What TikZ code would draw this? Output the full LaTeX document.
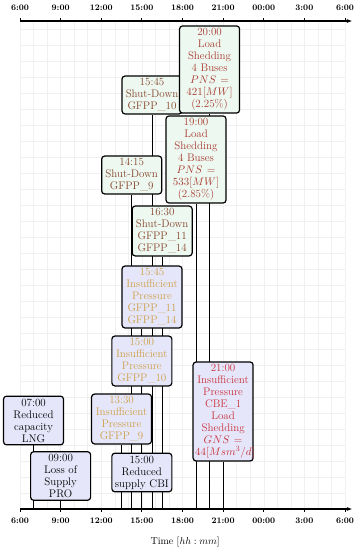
\documentclass[tikz,border=0pt]{standalone}
\usepackage{amsmath}
\usepackage{xcolor}
\usepackage{tikz}
\usetikzlibrary{arrows.meta, backgrounds}

\definecolor{shedtext}{RGB}{170,60,50}
\definecolor{shuttext}{RGB}{135,70,45}
\definecolor{presstext}{RGB}{205,160,70}
\definecolor{cbetext}{RGB}{200,50,60}
\definecolor{greenfill}{RGB}{236,248,240}
\definecolor{lavfill}{RGB}{230,230,250}

\begin{document}
\begin{tikzpicture}[x=13.54pt, y=1pt,
  event/.style={draw=black, line width=1.2pt, rounded corners=3pt, text width=56pt, align=center,
    inner xsep=2pt, inner ysep=2.5pt, font=\fontsize{11}{12}\selectfont},
  supplybox/.style={event, fill=lavfill, text=black},
  pressbox/.style={event, fill=lavfill, text=presstext},
  shutbox/.style={event, fill=greenfill, text=shuttext},
  shedbox/.style={event, fill=greenfill, text=shedtext},
  cbebox/.style={event, fill=lavfill, text=cbetext},
  timeline/.style={line width=1.2pt, -{Stealth[length=5pt]}},
  tickmark/.style={line width=0.8pt},
  ticklabel/.style={font=\fontsize{8.5}{10}\selectfont\bfseries},
  eventline/.style={line width=1pt},
  gridline/.style={gray!12, line width=0.4pt}]
  \useasboundingbox (-1.477,-41) rectangle (24.963,509);

  % Time axes (bottom and top)
  \draw[timeline] (0,0) -- (24.5,0);
  \draw[timeline] (0,488) -- (24.5,488);
  \foreach \h/\lab in {0/6:00,3/9:00,6/12:00,9/15:00,12/18:00,15/21:00,18/00:00,21/3:00,24/6:00}{
    \draw[tickmark] (\h,0) -- (\h,-3) node[below=2pt, ticklabel] (bot\h) {\lab};
    \draw[tickmark] (\h,488) -- (\h,491) node[above=3.5pt, ticklabel] (top\h) {\lab};
  }
  \node (timelabel) at (12.2,-33) {Time $[hh:mm]$};

  % Event times on the axis
  \coordinate (t0700) at (1,0);
  \coordinate (t0900) at (3,0);
  \coordinate (t1330) at (7.5,0);
  \coordinate (t1415) at (8.25,0);
  \coordinate (t1500) at (9,0);
  \coordinate (t1545) at (9.75,0);
  \coordinate (t1630) at (10.5,0);
  \coordinate (t1900) at (13,0);
  \coordinate (t2000) at (14,0);
  \coordinate (t2100) at (15,0);

  % Supply events
  \node[supplybox] (lng) at (1,88.5) {07:00\\Reduced\\capacity\\LNG};
  \node[supplybox] (pro) at (3,33) {09:00\\Loss of\\Supply\\PRO};
  \node[supplybox] (cbi) at (9,36.5) {15:00\\Reduced\\supply CBI};

  % Insufficient pressure
  \node[pressbox] (ip9) at (7.5,90) {13:30\\Insufficient\\Pressure\\GFPP\_9};
  \node[pressbox] (ip10) at (9,148) {15:00\\Insufficient\\Pressure\\GFPP\_10};
  \node[pressbox] (ip11) at (9.75,212) {15:45\\Insufficient\\Pressure\\GFPP\_11\\GFPP\_14};

  % Shut-downs
  \node[shutbox] (sd11) at (10.5,278) {16:30\\Shut-Down\\GFPP\_11\\GFPP\_14};
  \node[shutbox] (sd9) at (8.25,334) {14:15\\Shut-Down\\GFPP\_9};
  \node[shutbox] (sd10) at (9.75,414) {15:45\\Shut-Down\\GFPP\_10};

  % Load shedding
  \node[shedbox] (ls19) at (13,349.5) {19:00\\Load\\Shedding\\4 Buses\\$PNS =$\\$533[MW]$\\(2.85\%)};
  \node[shedbox] (ls20) at (14,439.5) {20:00\\Load\\Shedding\\4 Buses\\$PNS =$\\$421[MW]$\\(2.25\%)};
  \node[cbebox] (cbe) at (15,97.5) {21:00\\Insufficient\\Pressure\\CBE\_1\\Load\\Shedding\\$GNS =$\\$44[Msm^3/d]$};

  % Grid and event lines behind the boxes
  \begin{scope}[on background layer]
    \draw[gridline, xstep=1, ystep=16] (0,0) grid (24,488);
    \draw[eventline] (t0700) -- (lng);
    \draw[eventline] (t0900) -- (pro);
    \draw[eventline] (t1330) -- (ip9);
    \draw[eventline] (t1415) -- (sd9);
    \draw[eventline] (t1500) -- (cbi);
    \draw[eventline] (t1500) -- (ip10);
    \draw[eventline] (t1500) -- (t1500 |- ip11.south);
    \draw[eventline] (t1545) -- (ip11);
    \draw[eventline] (t1545) -- (sd10);
    \draw[eventline] (t1630) -- (sd11);
    \draw[eventline] (t1900) -- (ls19);
    \draw[eventline] (t2000) -- (ls20);
    \draw[eventline] (t2100) -- (cbe);
  \end{scope}
\end{tikzpicture}
\end{document}
